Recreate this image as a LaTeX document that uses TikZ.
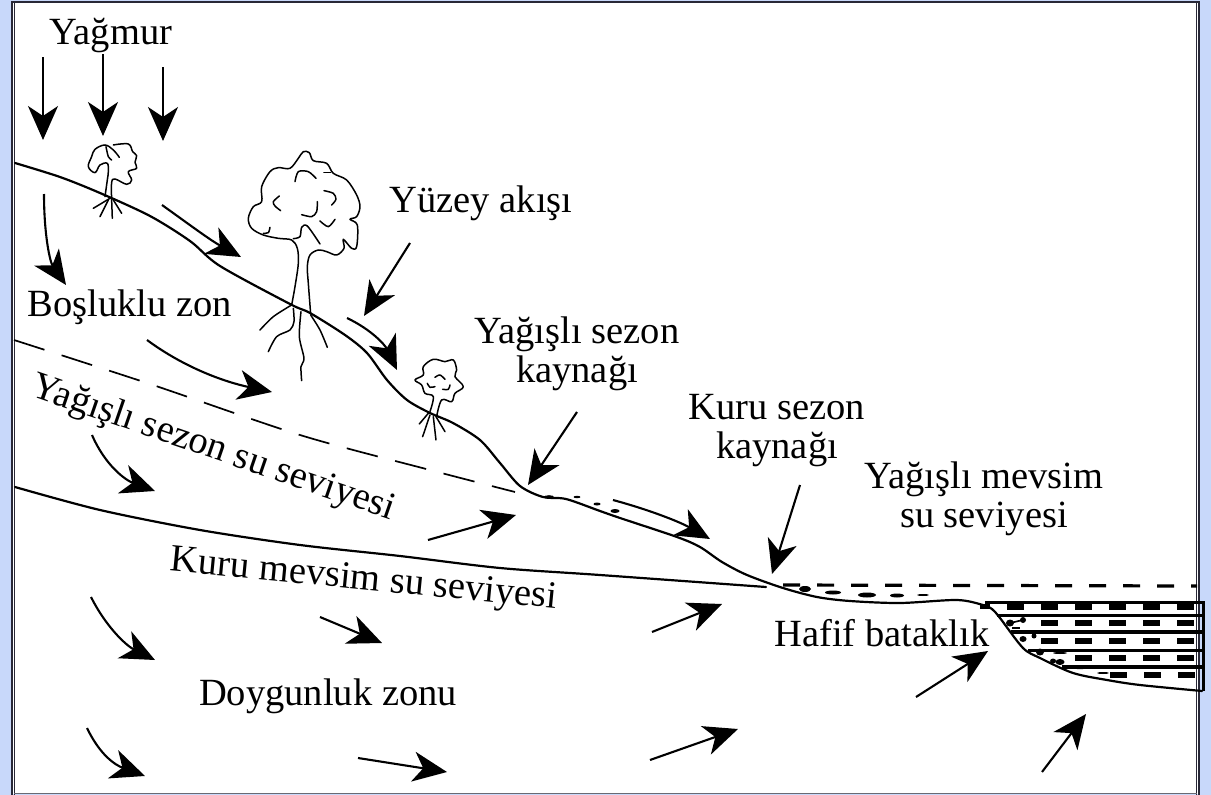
\documentclass[tikz,border=0pt]{standalone}
\usepackage{fontspec}
\setmainfont{Liberation Serif}
\usetikzlibrary{arrows.meta}
\definecolor{bandblue}{RGB}{200,216,250}
\definecolor{framegray}{RGB}{40,40,55}
\tikzstyle{flow} = [line width=2.1pt,-{Stealth[length=34pt,width=30pt,inset=10pt]}]
\tikzstyle{ground} = [line width=2.2pt,line cap=round,line join=round]
\tikzstyle{wood} = [line width=1.5pt,line cap=round,line join=round]
\tikzstyle{yazi} = [font=\fontsize{38.5}{39}\selectfont,align=center,inner sep=0pt]
\begin{document}
\begin{tikzpicture}[x=1pt,y=-1pt]
\useasboundingbox (0,0) rectangle (1211,795);

%page band and frame
\fill[bandblue] (0,0) rectangle (1211,795);
\fill[white] (13,2) rectangle (1198,794);
\draw[framegray,line width=2pt] (11.5,795) -- (11.5,2) -- (1199,2) -- (1199,795);
\draw[framegray,line width=1.2pt] (14.5,795) -- (14.5,3);
\draw[framegray,line width=1.2pt] (1196.5,3) -- (1196.5,795);
\draw[framegray!70,line width=1pt] (14,793.5) -- (1197,793.5);

%ground surface
\draw[ground] plot[smooth,tension=0.5] coordinates {(15,163) (60,177) (100,193) (150,216) (190,241) (220,266) (290,304) (310,313) (345,335) (367,353) (387,380) (407,400) (430,413) (453,423) (480,440) (500,463) (520,486) (543,497) (566,499) (600,511) (620,518) (677,537) (700,547) (722,562) (747,575) (783,588) (817,597) (850,601) (900,603) (957,600) (983,605) (992,609) (1000,618) (1023,648) (1040,658) (1073,673) (1107,680) (1140,685) (1202,691)};

%water tables
\draw[line width=1.7pt,dash pattern=on 32pt off 18pt] plot[smooth] coordinates {(14,340) (150,384) (300,435) (430,470) (515,492)};
\draw[ground] plot[smooth] coordinates {(15,487) (100,510) (200,530) (300,545) (400,556) (500,568) (600,575) (766,587)};
\draw[line width=3.2pt,dash pattern=on 17pt off 17pt] (783,585) -- (1197,586);

%bog layers
\draw[line width=3pt] (985,602) -- (1203,602) -- (1203,691);
\draw[line width=3pt] (997,615) -- (1203,615);
\draw[line width=4pt] (1011,632) -- (1203,632);
\draw[line width=3pt] (1028,650) -- (1203,650);
\draw[line width=3.5pt] (1062,667) -- (1203,667);
\foreach \y/\first in {607/1007,623/1041,641/1041,658/1075,675/1110}
{
 \foreach \n in {0,...,5}
 {
 \pgfmathsetmacro{\xd}{\first+34*\n}
 \ifdim \xd pt<1190pt
 \fill (\xd,\y-3) rectangle (\xd+17,\y+3);
 \fi
 }
}
\fill (980,604) rectangle (990,609);

%seep water
\foreach \x/\y/\rx/\ry in {549/497/5/1.8,577/497/3.5/1.2,597/504/3.5/1.5,615/511/4.5/2,805/589/6/3,833/592.5/8/2,867/595/9/2.5,897/595.5/7/2,923/595/6/1,825/585/8/1,1010/623/4/3.5,1023/620/3/3,1023/639/3.5/3,1034/636/2.5/2.5,1040/652/4/3.5,1060/653/7/1,1060/662/4.5/3,1053/661/3/2.5,1080/668/6/1.2,1103/673/6/1,1052/641/6/1}
{
\fill (\x,\y) ellipse ({\rx pt} and {\ry pt});
}
\draw[line width=1.7pt] (1010,623) -- (1023,620);
\draw[line width=1.7pt] (1012,628) -- (1020,628);

%straight arrows
\foreach \xa/\ya/\xb/\yb in {43/57/43/140,103/54/103/136,163/67/163/141,410/243/364/316,577/412/528/485,800/485/772/574,428/540/516/515,320/617/382/643,652/632/722/604,916/697/988/651,358/758/447/772,650/760/738/729,1042/772/1086/714}
{
\draw[flow] (\xa,\ya) -- (\xb,\yb);
}

%bent arrows
\draw[flow] (44,194) .. controls (44,235) and (50,262) .. (66,285);
\draw[flow] (162,205) .. controls (190,225) and (210,240) .. (241,257);
\draw[flow] (147,340) .. controls (185,368) and (225,382) .. (272,392);
\draw[flow] (347,318) .. controls (372,330) and (385,345) .. (397,370);
\draw[flow] (92,435) .. controls (105,465) and (125,480) .. (155,491);
\draw[flow] (613,500) .. controls (650,510) and (680,522) .. (710,539);
\draw[flow] (91,597) .. controls (105,625) and (125,645) .. (155,660);
\draw[flow] (87,728) .. controls (100,755) and (115,765) .. (145,776);

%tree on the upper slope
\begin{scope}[shift={(0,0)},scale=0.3333]
\draw[wood] plot[smooth,tension=0.6] coordinates {(315,590) (322,540) (325,515) (322,490) (300,495) (285,518) (265,500) (275,470) (285,448) (315,435) (340,450) (358,472)};
\draw[wood] plot[smooth,tension=0.6] coordinates {(340,435) (385,432) (398,455) (410,467) (405,487) (410,505) (385,515) (395,540) (380,553) (345,537) (335,548) (335,600)};
\draw[wood] plot[smooth] coordinates {(318,440) (325,470) (335,480)};
\draw[wood] (330,595) -- (280,625);
\draw[wood] (325,600) -- (300,650);
\draw[wood] (335,600) -- (337,655);
\draw[wood] (340,600) -- (365,640);
\end{scope}

%big tree
\begin{scope}[shift={(220,140)},scale=0.3333]
\draw[wood] plot[smooth,tension=0.55] coordinates {(215,495) (225,440) (235,370) (232,325) (215,300) (175,295) (130,285) (95,265) (85,235) (100,200) (125,185) (125,140) (150,95) (175,83) (210,85) (235,55) (250,35) (268,38) (280,62) (320,70) (340,100) (380,120) (410,165) (420,200) (410,230) (390,238) (412,255) (410,320) (395,325) (370,298) (372,325) (350,345) (320,335) (295,330) (270,345) (262,380) (265,430) (272,522)};
\draw[wood] plot[smooth] coordinates {(225,125) (235,95) (265,95) (288,115)};
\draw[wood] plot[smooth] coordinates {(312,152) (340,160) (348,178) (335,195)};
\draw[wood] plot[smooth] coordinates {(178,168) (160,185) (165,198) (182,212)};
\draw[wood] plot[smooth] coordinates {(245,224) (275,230) (290,215) (292,185)};
\draw[wood] plot[smooth] coordinates {(300,243) (325,260) (345,238)};
\draw[wood] plot[smooth] coordinates {(220,296) (240,290) (245,262) (262,258) (300,312)};
\draw[wood] plot[smooth] coordinates {(130,280) (145,278) (150,262)};
\draw[wood] (312,98) -- (332,98);
\draw[wood] plot[smooth] coordinates {(215,495) (160,530) (120,570)};
\draw[wood] plot[smooth] coordinates {(220,505) (222,545) (210,570) (170,590) (145,635)};
\draw[wood] plot[smooth] coordinates {(243,515) (238,590) (252,655) (243,680) (245,722)};
\draw[wood] plot[smooth] coordinates {(272,525) (300,570) (322,622)};
\end{scope}

%small tree on the lower slope
\begin{scope}[shift={(220,140)},scale=0.3333]
\draw[wood] plot[smooth,tension=0.6] coordinates {(630,815) (640,770) (615,760) (605,735) (585,720) (610,705) (610,680) (640,658) (675,665) (700,660) (710,690) (705,710) (730,740) (705,760) (695,785) (665,780) (650,830)};
\draw[wood] plot[smooth] coordinates {(645,712) (660,705) (675,718)};
\draw[wood] plot[smooth] coordinates {(622,730) (630,742) (645,740)};
\draw[wood] plot[smooth] coordinates {(668,748) (685,748) (690,735)};
\draw[wood] (625,820) -- (598,852);
\draw[wood] (630,825) -- (608,890);
\draw[wood] (640,830) -- (648,900);
\draw[wood] (648,830) -- (675,875);
\end{scope}

%labels
\node[yazi] (yagmur) at (111,36) {Yağmur};
\node[yazi] (yuzey) at (481,203) {Yüzey akışı};
\node[yazi] (bosluklu) at (130,307) {Boşluklu zon};
\node[yazi] (yaskaynak) at (577,354) {Yağışlı sezon\\kaynağı};
\node[yazi] (kurukaynak) at (777,431) {Kuru sezon\\kaynağı};
\node[yazi] (yasmevsim) at (984,499) {Yağışlı mevsim\\su seviyesi};
\node[yazi] (bataklik) at (882,633) {Hafif bataklık};
\node[yazi] (doygun) at (328,696) {Doygunluk zonu};
\node[yazi,rotate=-19] (yasseviye) at (213,449) {Yağışlı sezon su seviyesi};
\node[yazi,rotate=-5.5] (kuruseviye) at (364,581) {Kuru mevsim su seviyesi};

\end{tikzpicture}
\end{document}
